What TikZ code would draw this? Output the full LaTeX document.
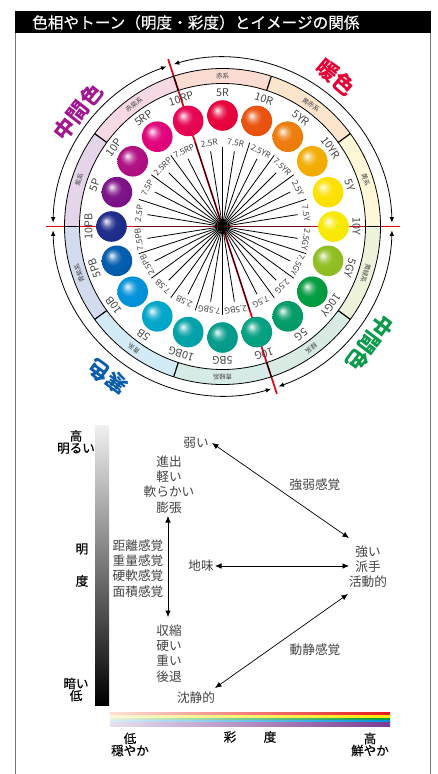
\documentclass[tikz,border=0pt]{standalone}
\usepackage{fontspec}
\setmainfont{Noto Sans CJK JP}
\newfontfamily\medfont[FakeBold=0.35]{Noto Sans CJK JP}
\usetikzlibrary{arrows.meta}
\definecolor{txt}{HTML}{444444}
\definecolor{frameg}{HTML}{777777}
\definecolor{redl}{HTML}{E60012}
\definecolor{maroon}{HTML}{6E0A18}
\definecolor{wordpurple}{HTML}{A0178F}
\definecolor{wordred}{HTML}{E60033}
\definecolor{wordblue}{HTML}{0B5CAD}
\definecolor{wordgreen}{HTML}{0A9A4A}
\definecolor{rainL}{HTML}{FDE0D5}\definecolor{rainR}{HTML}{E6191E}
\definecolor{yelL}{HTML}{FFF8D8}\definecolor{yelR}{HTML}{FFE600}
\definecolor{grnL}{HTML}{E8F3DC}\definecolor{grnR}{HTML}{009A44}
\definecolor{bluL}{HTML}{D7EDF7}\definecolor{bluR}{HTML}{0096D6}
\definecolor{purL}{HTML}{E8DFF0}\definecolor{purR}{HTML}{7B3B94}
\colorlet{ballcol}{red}
\pgfdeclareradialshading[ballcol]{shinyball}{\pgfqpoint{-9bp}{9bp}}{%
 color(0bp)=(ballcol!8!white);
 color(3bp)=(ballcol!30!white);
 color(8bp)=(ballcol!70!white);
 color(14bp)=(ballcol!97!white);
 color(28bp)=(ballcol);
 color(50bp)=(ballcol!72!black)}
\newcommand{\fs}[1]{\fontsize{#1}{#1}\selectfont}
\tikzset{
  x=1bp,y=1bp,
  bothtip/.style={{Latex[length=6.5bp,width=5.5bp]}-{Latex[length=6.5bp,width=5.5bp]}, line width=0.7bp, black},
  arcarrow/.style={{Latex[length=5.5bp,width=4.5bp]}-{Latex[length=5.5bp,width=4.5bp]}, line width=0.8bp, black},
  hue/.style={text=txt,font=\fs{10.7},inner sep=0pt},
  sublabel/.style={text=txt,font=\fs{8.3},inner sep=0pt},
  sector/.style={text=txt,font=\fs{6.5},inner sep=0pt},
  bigword/.style={font=\fs{21.5}\bfseries,inner sep=0pt},
  desc/.style={text=txt,font=\fontsize{12.7}{15.3}\selectfont,align=center,inner sep=0pt},
  axis/.style={text=black,font=\medfont\fs{12.6},align=center,inner sep=0pt},
  redline/.style={redl,line width=1.7bp},
  spoke/.style={black,line width=0.8bp},
}
\begin{document}
\begin{tikzpicture}
\useasboundingbox (0,0) rectangle (438,-774);
\fill[white] (0,0) rectangle (438,-774);
% frame and title
\draw[frameg,line width=1.3bp] (15.5,-33) -- (15.5,-774);
\draw[frameg,line width=1.3bp] (430.7,-11) -- (430.7,-774);
\fill[black] (15,-11) rectangle (431,-33.5);
\node[text=white,font=\medfont\fs{15.7},anchor=west,inner sep=0pt] (title) at (32,-22.5) {色相やトーン（明度・彩度）とイメージの関係};
% wheel
\begin{scope}[shift={(222.5,-226.5)}]
  % band sectors
  \foreach \st/\col/\txtv in {
    72/FADCD3/赤系, 36/FDE4CD/黄赤系, 0/FFF8D8/黄系, -36/ECF3DA/黄緑系,
    -72/D7EBE3/緑系, -108/D7EBE6/青緑系, -144/D3EBF7/青系, -180/D3DCEF/青紫系,
    144/E4D5E8/紫系, 108/F7D9E5/赤紫系}{
    \definecolor{bandc}{HTML}{\col}
    \fill[bandc] (\st:143) arc[start angle=\st,delta angle=36,radius=143bp]
      -- (\st+36:158) arc[start angle=\st+36,delta angle=-36,radius=158bp] -- cycle;
    \node[sector,rotate=\st+18-90] (band\st) at (\st+18:150.5) {\txtv};
  }
  % red axes
  \draw[redline] (180:176.5) -- (0:177.5);
  \draw[redline] (108:176) -- (288:176);
  % circles
  \draw[black,line width=0.8bp] (0,0) circle[radius=143bp];
  \draw[black,line width=0.8bp] (0,0) circle[radius=158bp];
  \foreach \a in {0,36,...,324}{
    \draw[black,line width=1.2bp] (\a:143) -- (\a:158);
  }
  % outer arcs
  \draw[arcarrow] (1.3:169.5) arc[start angle=1.3,end angle=106.7,radius=169.5bp];
  \draw[arcarrow] (109.3:169.5) arc[start angle=109.3,end angle=178.7,radius=169.5bp];
  \draw[arcarrow] (181.3:169.5) arc[start angle=181.3,end angle=286.7,radius=169.5bp];
  \draw[arcarrow] (289.3:169.5) arc[start angle=289.3,end angle=358.7,radius=169.5bp];
  % spokes
  \coordinate (hub) at (0,0);
  \foreach \a in {18,36,...,162,198,216,...,342}{
    \pgfmathsetmacro{\rr}{\a==90 ? 80 : 88}
    \draw[spoke] (hub) -- (\a:\rr);
  }
  \draw[maroon,line width=1.7bp] (180:88) -- (0:88);
  \foreach \a in {9,27,...,351}{
    \draw[spoke] (hub) -- (\a:76);
  }
  % sub labels
  \foreach \a/\t in {99/2.5R,81/7.5R,63/2.5YR,45/7.5YR,27/2.5Y,9/7.5Y,-9/2.5GY,-27/7.5GY,
    -45/2.5G,-63/7.5G,-81/2.5BG,-99/7.5BG,-117/2.5B,-135/7.5B,-153/2.5PB,-171/7.5PB,
    171/2.5P,153/7.5P,135/2.5RP,117/7.5RP}{
    \node[sublabel,rotate=\a-90] (sub\t) at (\a:84.5) {\t};
  }
  % balls
  \foreach \a/\t/\col in {
    90/5R/E60039, 72/10R/E8500A, 54/5YR/ED7A08, 36/10YR/F2AB00, 18/5Y/FDE000, 0/10Y/F8E800,
    -18/5GY/8FBC20, -36/10GY/009A3E, -54/5G/009A66, -72/10G/009F7E, -90/5BG/009A8A,
    -108/10BG/00A0A8, -126/5B/00A5C8, -144/10B/0090D8, -162/5PB/005AAC, 180/10PB/1C2A8A,
    162/5P/7A0F85, 144/10P/AE0C80, 126/5RP/E0007A, 108/10RP/E60050}{
    \definecolor{ballcol}{HTML}{\col}
    \shade[shading=shinyball] (\a:111) circle[radius=15.3bp];
    \node[hue,rotate=\a-90] (lab\t) at (\a:134) {\t};
  }
\end{scope}
% large words
\node[bigword,text=wordpurple,rotate=52] (midl) at (78,-112) {中間色};
\node[bigword,text=wordred,rotate=-40] (warm) at (336,-77) {暖色};
\node[bigword,text=wordblue,rotate=144] (cool) at (108,-377) {寒色};
\node[bigword,text=wordgreen,rotate=233] (midr) at (370,-343) {中間色};
% lightness bar
\shade[top color=white!94!black,bottom color=black] (95,-425) rectangle (109,-705);
\node[axis] (hi) at (76,-442) {高\\[-0.5bp]明るい};
\node[axis] (mei) at (82,-549) {明};
\node[axis] (do) at (82,-581) {度};
\node[axis] (lo) at (76,-689.5) {暗い\\[-0.5bp]低};
% chroma bar
\shade[left color=rainL,right color=rainR] (110,-712) rectangle (390,-715.6);
\shade[left color=yelL,right color=yelR] (110,-715.6) rectangle (390,-718.4);
\shade[left color=grnL,right color=grnR] (110,-718.4) rectangle (390,-720.8);
\shade[left color=bluL,right color=bluR] (110,-720.8) rectangle (390,-722.4);
\shade[left color=purL,right color=purR] (110,-722.4) rectangle (390,-726);
\node[axis] (clo) at (130,-744.5) {低\\[-0.5bp]穏やか};
\node[axis] (sai) at (230,-737) {彩};
\node[axis] (dob) at (270,-737) {度};
\node[axis] (chi) at (370,-744.5) {高\\[-0.5bp]鮮やか};
% descriptors
\node[desc] (weak) at (196,-442.5) {弱い};
\node[desc] (up) at (169,-484.5) {進出\\軽い\\軟らかい\\膨張};
\node[desc] (sense) at (138,-568.5) {距離感覚\\重量感覚\\硬軟感覚\\面積感覚};
\node[desc] (down) at (169,-653.5) {収縮\\硬い\\重い\\後退};
\node[desc] (plain) at (201,-566) {地味};
\node[desc] (strong) at (368,-566.5) {強い\\派手\\活動的};
\node[desc] (calm) at (196,-698) {沈静的};
\node[desc] (ss) at (315,-484.5) {強弱感覚};
\node[desc] (ds) at (315,-650) {動静感覚};
\coordinate (upend) at (168,-516);
\coordinate (downend) at (168,-617);
\coordinate (weakend) at (212,-443);
\coordinate (strongtop) at (349,-538);
\coordinate (plainend) at (215,-566);
\coordinate (strongmid) at (349,-566);
\coordinate (strongbot) at (348,-594);
\coordinate (calmend) at (215,-688);
\draw[bothtip] (upend) -- (downend);
\draw[bothtip] (weakend) -- (strongtop);
\draw[bothtip] (plainend) -- (strongmid);
\draw[bothtip] (strongbot) -- (calmend);
\end{tikzpicture}
\end{document}
